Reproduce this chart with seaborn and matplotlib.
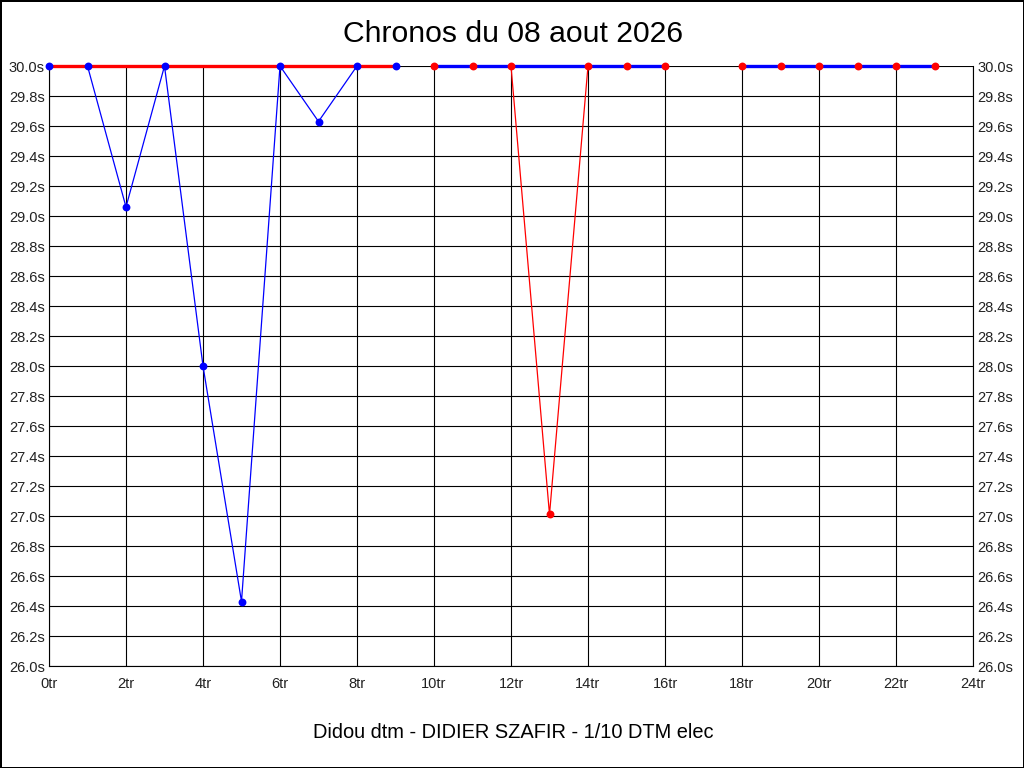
import matplotlib
matplotlib.use("Agg")
import matplotlib.pyplot as plt
import seaborn as sns
import pandas as pd
from matplotlib.ticker import FixedLocator, FuncFormatter

# ---- data ----
laps_s1 = [0, 1, 2, 3, 4, 5, 6, 7, 8, 9]
times_s1 = [30.0, 30.0, 29.06, 30.0, 28.0, 26.43, 30.0, 29.63, 30.0, 30.0]
laps_s2 = [10, 11, 12, 13, 14, 15, 16]
times_s2 = [30.0, 30.0, 30.0, 27.01, 30.0, 30.0, 30.0]
laps_s3 = [18, 19, 20, 21, 22, 23]
times_s3 = [30.0, 30.0, 30.0, 30.0, 30.0, 30.0]
ref_time = 30.0
title = "Chronos du 08 aout 2026"
footer = "Didou dtm - DIDIER SZAFIR - 1/10 DTM elec"
x_ticks = list(range(0, 25, 2))
y_ticks = [round(26.0 + 0.2 * i, 1) for i in range(21)]

sns.set_theme(style="white")
plt.rcParams["font.family"] = ["Liberation Sans", "DejaVu Sans"]

fig = plt.figure(figsize=(10.24, 7.68), dpi=100, facecolor="white",
                 edgecolor="black", linewidth=2)
W, H = 1024, 768
ax = fig.add_axes([49 / W, (H - 666) / H, (973 - 49) / W, 600 / H])
ax.set_facecolor("white")

BLUE = "#0000ff"
RED = "#ff0000"

def thin(laps, times, color, z):
    df = pd.DataFrame({"lap": laps, "t": times})
    sns.lineplot(data=df, x="lap", y="t", ax=ax, color=color, linewidth=0.9,
                 estimator=None, sort=False, zorder=z, clip_on=False)

def thick(laps, color, z):
    df = pd.DataFrame({"lap": [laps[0], laps[-1]], "t": [ref_time, ref_time]})
    sns.lineplot(data=df, x="lap", y="t", ax=ax, color=color, linewidth=2.4,
                 estimator=None, sort=False, zorder=z, clip_on=False)

def marks(laps, times, color, z):
    df = pd.DataFrame({"lap": laps, "t": times})
    sns.scatterplot(data=df, x="lap", y="t", ax=ax, color=color, s=32,
                    edgecolor=color, linewidth=0, zorder=z, clip_on=False)

# session 1
thin(laps_s1, times_s1, BLUE, 3)
thick(laps_s1, RED, 4)
marks(laps_s1, times_s1, BLUE, 5)
# session 2
thin(laps_s2, times_s2, RED, 3)
thick(laps_s2, BLUE, 4)
marks(laps_s2, times_s2, RED, 5)
# session 3
thin(laps_s3, times_s3, RED, 3)
thick(laps_s3, BLUE, 4)
marks(laps_s3, times_s3, RED, 5)

ax.set_xlim(0, 24)
ax.set_ylim(26.0, 30.0)
ax.xaxis.set_major_locator(FixedLocator(x_ticks))
ax.yaxis.set_major_locator(FixedLocator(y_ticks))
ax.xaxis.set_major_formatter(FuncFormatter(lambda v, p: f"{int(round(v))}tr"))
ax.yaxis.set_major_formatter(FuncFormatter(lambda v, p: f"{v:.1f}s"))
ax.grid(True, color="black", linewidth=0.8, zorder=1)
ax.set_axisbelow(True)
ax.tick_params(axis="both", length=0, labelsize=10.5, colors="#222222")
ax.tick_params(axis="x", pad=8)
ax.tick_params(axis="y", pad=3, labelleft=True, labelright=True)
for s in ax.spines.values():
    s.set_color("black")
    s.set_linewidth(0.8)
ax.spines["top"].set_visible(False)
ax.set_xlabel("")
ax.set_ylabel("")

fig.text(513 / W, 1 - 34 / H, title, ha="center", va="center", fontsize=21.7, color="black")
fig.text(513 / W, 1 - 733 / H, footer, ha="center", va="center", fontsize=14.4, color="black")

fig.savefig("out.png", dpi=100, facecolor="white", edgecolor="black")
